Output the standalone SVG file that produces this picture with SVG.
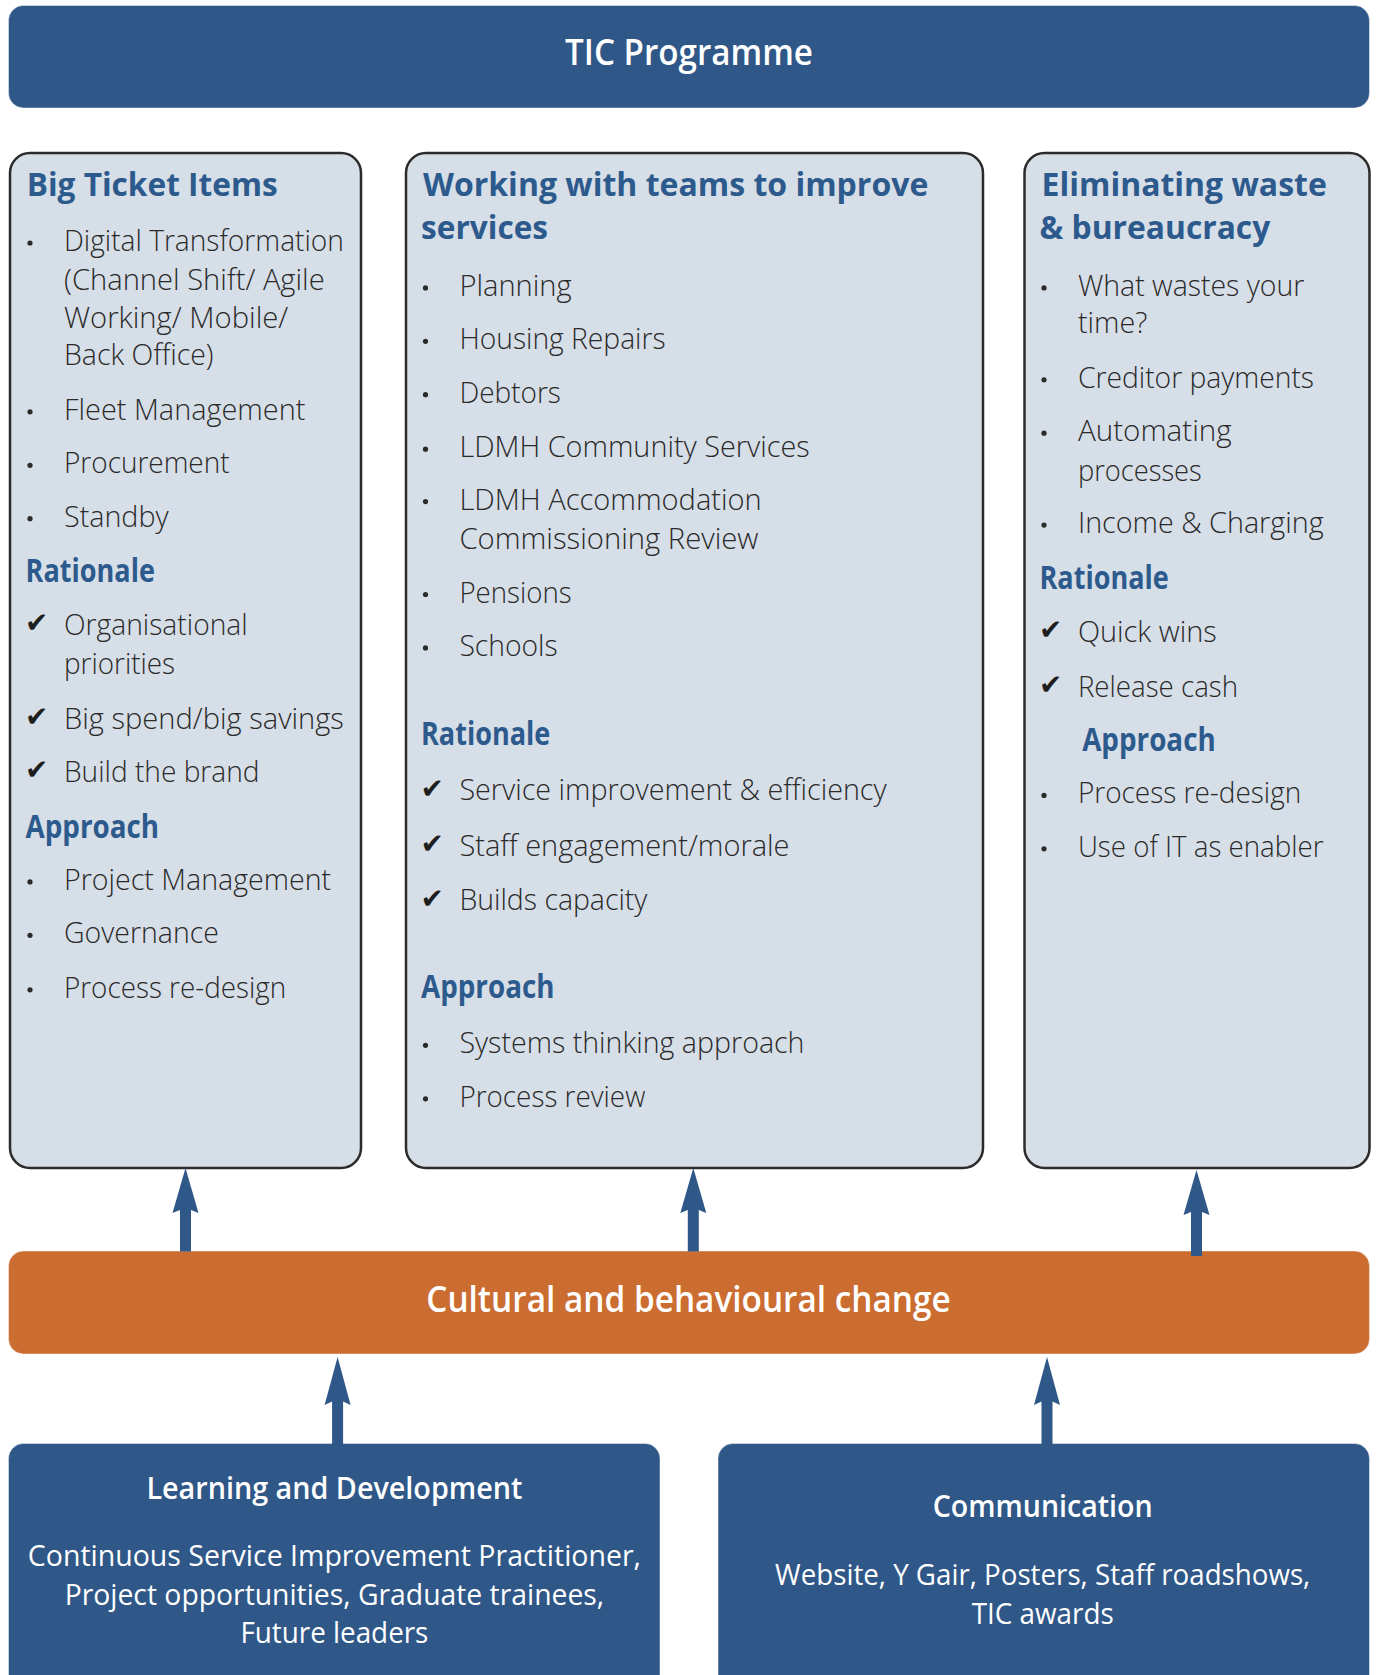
<svg xmlns="http://www.w3.org/2000/svg" width="1376" height="1675" viewBox="0 0 1376 1675">
  <style>
    .bar { fill: #2f5788; stroke: #ffffff; stroke-opacity: 0.45; stroke-width: 1; }
    .band { fill: #cb6c30; stroke: #ffffff; stroke-opacity: 0.45; stroke-width: 1; }
    .panel { fill: #d6dee7; stroke: #2b2b2b; stroke-width: 2.5; }
    .banner { font-family: "Open Sans", "Noto Sans", "Liberation Sans", sans-serif; font-weight: 600; font-size: 36px; fill: #ffffff; text-anchor: middle; }
    .head { font-family: "Open Sans", "Noto Sans", "Liberation Sans", sans-serif; font-weight: 700; font-size: 33px; fill: #2d5a8d; }
    .item { font-family: "Open Sans", "Noto Sans", "Liberation Sans", sans-serif; font-weight: 300; font-size: 29.5px; fill: #2a2a2a; }
    .tick { font-family: "DejaVu Sans", sans-serif; font-size: 28px; fill: #1e1e1e; }
    .dot { fill: #2a2a2a; }
    .boxhead { font-family: "Open Sans", "Noto Sans", "Liberation Sans", sans-serif; font-weight: 600; font-size: 30px; fill: #ffffff; text-anchor: middle; }
    .boxtext { font-family: "Open Sans", "Noto Sans", "Liberation Sans", sans-serif; font-weight: 400; font-size: 30px; fill: #ffffff; text-anchor: middle; }
    .arrow { fill: #2f5788; }
  </style>

  <!-- Programme banner -->
  <g id="tic-programme">
    <rect class="bar" x="8.5" y="5.5" width="1361" height="102.5" rx="15"/>
    <text class="banner" x="689" y="65" textLength="248" lengthAdjust="spacingAndGlyphs">TIC Programme</text>
  </g>

  <!-- Workstream: Big Ticket Items -->
  <g id="big-ticket-items">
    <rect class="panel" x="10" y="153" width="351" height="1015" rx="20"/>
    <text class="head" x="26.7" y="195.5" textLength="251" lengthAdjust="spacingAndGlyphs">Big Ticket Items</text>
    <circle class="dot" cx="30" cy="243" r="2.6"/>
    <text class="item" x="64" y="251.1" textLength="279.9" lengthAdjust="spacingAndGlyphs">Digital Transformation</text>
    <text class="item" x="64" y="289.5" textLength="260.7" lengthAdjust="spacingAndGlyphs">(Channel Shift/ Agile</text>
    <text class="item" x="64" y="328" textLength="224.3" lengthAdjust="spacingAndGlyphs">Working/ Mobile/</text>
    <text class="item" x="64" y="365.4" textLength="149.6" lengthAdjust="spacingAndGlyphs">Back Office)</text>
    <circle class="dot" cx="30" cy="411.8" r="2.6"/>
    <text class="item" x="64" y="419.8" textLength="241.4" lengthAdjust="spacingAndGlyphs">Fleet Management</text>
    <circle class="dot" cx="30" cy="465.3" r="2.6"/>
    <text class="item" x="64" y="473.3" textLength="165.6" lengthAdjust="spacingAndGlyphs">Procurement</text>
    <circle class="dot" cx="30" cy="518.7" r="2.6"/>
    <text class="item" x="64" y="526.7" textLength="104.7" lengthAdjust="spacingAndGlyphs">Standby</text>
    <text class="head" x="25.6" y="582.2" textLength="129.3" lengthAdjust="spacingAndGlyphs">Rationale</text>
    <text class="tick" x="25" y="632">✔</text>
    <text class="item" x="64" y="634.6" textLength="183.7" lengthAdjust="spacingAndGlyphs">Organisational</text>
    <text class="item" x="64" y="674.1" textLength="111.1" lengthAdjust="spacingAndGlyphs">priorities</text>
    <text class="tick" x="25" y="726">✔</text>
    <text class="item" x="64" y="728.6" textLength="279.9" lengthAdjust="spacingAndGlyphs">Big spend/big savings</text>
    <text class="tick" x="25" y="779.4">✔</text>
    <text class="item" x="64" y="782" textLength="195.5" lengthAdjust="spacingAndGlyphs">Build the brand</text>
    <text class="head" x="25.6" y="837.6" textLength="133.5" lengthAdjust="spacingAndGlyphs">Approach</text>
    <circle class="dot" cx="30" cy="881.9" r="2.6"/>
    <text class="item" x="64" y="889.9" textLength="267.1" lengthAdjust="spacingAndGlyphs">Project Management</text>
    <circle class="dot" cx="30" cy="935.3" r="2.6"/>
    <text class="item" x="64" y="943.3" textLength="154.9" lengthAdjust="spacingAndGlyphs">Governance</text>
    <circle class="dot" cx="30" cy="989.8" r="2.6"/>
    <text class="item" x="64" y="997.8" textLength="222.2" lengthAdjust="spacingAndGlyphs">Process re-design</text>
  </g>

  <!-- Workstream: Working with teams -->
  <g id="working-with-teams">
    <rect class="panel" x="406" y="153" width="577" height="1015" rx="20"/>
    <text class="head" x="423" y="195.5" textLength="505.3" lengthAdjust="spacingAndGlyphs">Working with teams to improve</text>
    <text class="head" x="421" y="239.3" textLength="127.1" lengthAdjust="spacingAndGlyphs">services</text>
    <circle class="dot" cx="425.5" cy="287.9" r="2.6"/>
    <text class="item" x="459.4" y="295.9" textLength="112.2" lengthAdjust="spacingAndGlyphs">Planning</text>
    <circle class="dot" cx="425.5" cy="341.3" r="2.6"/>
    <text class="item" x="459.4" y="349.3" textLength="206.2" lengthAdjust="spacingAndGlyphs">Housing Repairs</text>
    <circle class="dot" cx="425.5" cy="394.7" r="2.6"/>
    <text class="item" x="459.4" y="402.7" textLength="101.5" lengthAdjust="spacingAndGlyphs">Debtors</text>
    <circle class="dot" cx="425.5" cy="449.2" r="2.6"/>
    <text class="item" x="459.4" y="457.2" textLength="350.4" lengthAdjust="spacingAndGlyphs">LDMH Community Services</text>
    <circle class="dot" cx="425.5" cy="501.6" r="2.6"/>
    <text class="item" x="459.4" y="509.6" textLength="302.3" lengthAdjust="spacingAndGlyphs">LDMH Accommodation</text>
    <text class="item" x="459.4" y="549.1" textLength="299.1" lengthAdjust="spacingAndGlyphs">Commissioning Review</text>
    <circle class="dot" cx="425.5" cy="594.5" r="2.6"/>
    <text class="item" x="459.4" y="602.5" textLength="112.2" lengthAdjust="spacingAndGlyphs">Pensions</text>
    <circle class="dot" cx="425.5" cy="647.9" r="2.6"/>
    <text class="item" x="459.4" y="655.9" textLength="98.3" lengthAdjust="spacingAndGlyphs">Schools</text>
    <text class="head" x="421" y="744.6" textLength="129.3" lengthAdjust="spacingAndGlyphs">Rationale</text>
    <text class="tick" x="420.5" y="797.6">✔</text>
    <text class="item" x="459.4" y="800.2" textLength="427.3" lengthAdjust="spacingAndGlyphs">Service improvement &amp; efficiency</text>
    <text class="tick" x="420.5" y="853.1">✔</text>
    <text class="item" x="459.4" y="855.7" textLength="330.1" lengthAdjust="spacingAndGlyphs">Staff engagement/morale</text>
    <text class="tick" x="420.5" y="907.6">✔</text>
    <text class="item" x="459.4" y="910.2" textLength="188" lengthAdjust="spacingAndGlyphs">Builds capacity</text>
    <text class="head" x="421" y="997.8" textLength="133.5" lengthAdjust="spacingAndGlyphs">Approach</text>
    <circle class="dot" cx="425.5" cy="1045.3" r="2.6"/>
    <text class="item" x="459.4" y="1053.3" textLength="345.1" lengthAdjust="spacingAndGlyphs">Systems thinking approach</text>
    <circle class="dot" cx="425.5" cy="1098.8" r="2.6"/>
    <text class="item" x="459.4" y="1106.8" textLength="185.9" lengthAdjust="spacingAndGlyphs">Process review</text>
  </g>

  <!-- Workstream: Eliminating waste -->
  <g id="eliminating-waste">
    <rect class="panel" x="1024.5" y="153" width="345" height="1015" rx="20"/>
    <text class="head" x="1041.6" y="195.5" textLength="285.2" lengthAdjust="spacingAndGlyphs">Eliminating waste</text>
    <text class="head" x="1039.5" y="239.3" textLength="230.8" lengthAdjust="spacingAndGlyphs">&amp; bureaucracy</text>
    <circle class="dot" cx="1044" cy="287.9" r="2.6"/>
    <text class="item" x="1077.9" y="295.9" textLength="226.5" lengthAdjust="spacingAndGlyphs">What wastes your</text>
    <text class="item" x="1077.9" y="333.3" textLength="69.4" lengthAdjust="spacingAndGlyphs">time?</text>
    <circle class="dot" cx="1044" cy="379.8" r="2.6"/>
    <text class="item" x="1077.9" y="387.8" textLength="236.1" lengthAdjust="spacingAndGlyphs">Creditor payments</text>
    <circle class="dot" cx="1044" cy="433.2" r="2.6"/>
    <text class="item" x="1077.9" y="441.2" textLength="153.8" lengthAdjust="spacingAndGlyphs">Automating</text>
    <text class="item" x="1077.9" y="480.7" textLength="123.9" lengthAdjust="spacingAndGlyphs">processes</text>
    <circle class="dot" cx="1044" cy="525.1" r="2.6"/>
    <text class="item" x="1077.9" y="533.1" textLength="245.7" lengthAdjust="spacingAndGlyphs">Income &amp; Charging</text>
    <text class="head" x="1039.5" y="588.6" textLength="129.3" lengthAdjust="spacingAndGlyphs">Rationale</text>
    <text class="tick" x="1039" y="639.4">✔</text>
    <text class="item" x="1077.9" y="642" textLength="138.9" lengthAdjust="spacingAndGlyphs">Quick wins</text>
    <text class="tick" x="1039" y="693.9">✔</text>
    <text class="item" x="1077.9" y="696.5" textLength="160.2" lengthAdjust="spacingAndGlyphs">Release cash</text>
    <text class="head" x="1082.2" y="751" textLength="133.5" lengthAdjust="spacingAndGlyphs">Approach</text>
    <circle class="dot" cx="1044" cy="795.4" r="2.6"/>
    <text class="item" x="1077.9" y="803.4" textLength="223.3" lengthAdjust="spacingAndGlyphs">Process re-design</text>
    <circle class="dot" cx="1044" cy="848.8" r="2.6"/>
    <text class="item" x="1077.9" y="856.8" textLength="245.7" lengthAdjust="spacingAndGlyphs">Use of IT as enabler</text>
  </g>

  <!-- Foundation band -->
  <g id="cultural-change">
    <rect class="band" x="8.5" y="1251" width="1361" height="103" rx="15"/>
    <text class="banner" x="688.5" y="1312" textLength="524.5" lengthAdjust="spacingAndGlyphs">Cultural and behavioural change</text>
  </g>

  <!-- Enablers -->
  <g id="learning-development">
    <rect class="bar" x="8.5" y="1443.5" width="651.5" height="260" rx="15"/>
    <text class="boxhead" x="334.4" y="1499" textLength="376" lengthAdjust="spacingAndGlyphs">Learning and Development</text>
    <text class="boxtext" x="334.4" y="1566" textLength="613.2" lengthAdjust="spacingAndGlyphs">Continuous Service Improvement Practitioner,</text>
    <text class="boxtext" x="334.4" y="1604.6" textLength="539.5" lengthAdjust="spacingAndGlyphs">Project opportunities, Graduate trainees,</text>
    <text class="boxtext" x="334.4" y="1643" textLength="188" lengthAdjust="spacingAndGlyphs">Future leaders</text>
  </g>

  <g id="communication">
    <rect class="bar" x="718" y="1443.5" width="651.5" height="260" rx="15"/>
    <text class="boxhead" x="1042.7" y="1517" textLength="220" lengthAdjust="spacingAndGlyphs">Communication</text>
    <text class="boxtext" x="1042.7" y="1585.4" textLength="535.2" lengthAdjust="spacingAndGlyphs">Website, Y Gair, Posters, Staff roadshows,</text>
    <text class="boxtext" x="1042.7" y="1624" textLength="142" lengthAdjust="spacingAndGlyphs">TIC awards</text>
  </g>

  <!-- Upward arrows -->
  <g id="connectors">
    <path class="arrow" d="M185.5,1168 L198.5,1213 L191,1210 L191,1251.5 L180,1251.5 L180,1210 L172.5,1213 Z"/>
    <path class="arrow" d="M693.3,1168 L706.3,1213 L698.8,1210 L698.8,1251.5 L687.8,1251.5 L687.8,1210 L680.3,1213 Z"/>
    <path class="arrow" d="M1196.5,1170 L1209.5,1215 L1202,1212 L1202,1256 L1191,1256 L1191,1212 L1183.5,1215 Z"/>
    <path class="arrow" d="M337.6,1357 L350.6,1405 L343.1,1401.5 L343.1,1444 L332.1,1444 L332.1,1401.5 L324.6,1405 Z"/>
    <path class="arrow" d="M1047,1357 L1060,1405 L1052.5,1401.5 L1052.5,1444 L1041.5,1444 L1041.5,1401.5 L1034,1405 Z"/>
  </g>
</svg>
